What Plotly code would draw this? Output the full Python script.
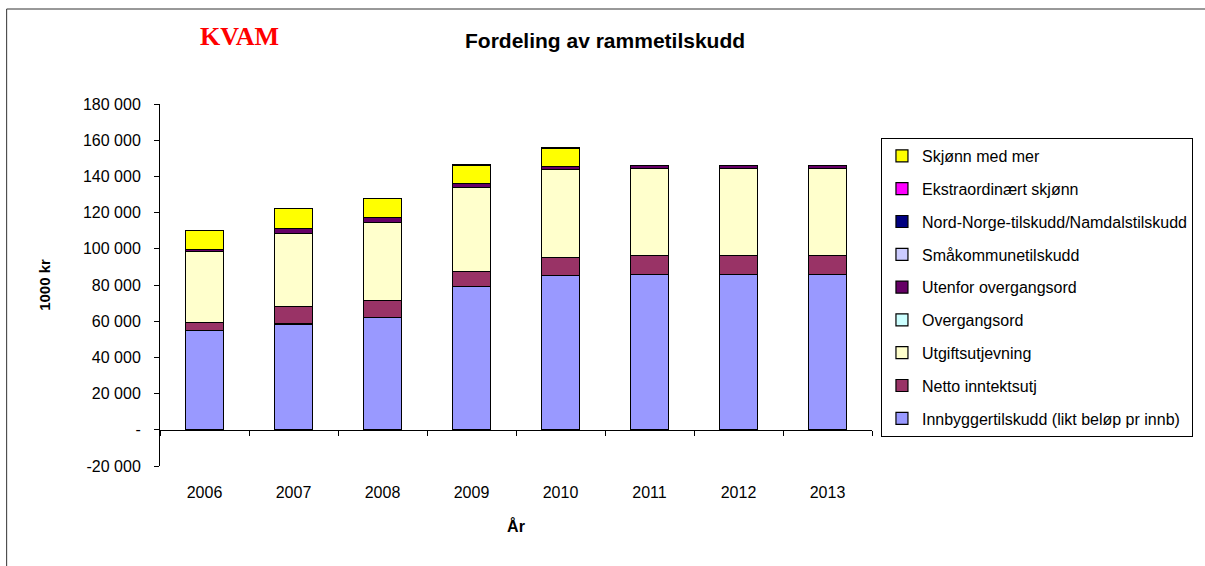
import plotly.graph_objects as go

years = ["2006", "2007", "2008", "2009", "2010", "2011", "2012", "2013"]

innbygger = [54800, 58500, 62200, 79100, 85400, 85800, 85800, 85800]
netto = [4700, 9600, 9200, 8500, 9600, 10300, 10300, 10300]
utgift = [38800, 40500, 43100, 46400, 48600, 48200, 48200, 48200]
overgang = [0, 0, 0, 0, 0, 0, 0, 0]
utenfor = [1500, 2600, 2900, 2200, 1800, 1900, 1900, 1900]
smakommune = [0, 0, 0, 0, 0, 0, 0, 0]
nordnorge = [0, 0, 0, 0, 0, 0, 0, 0]
ekstra = [0, 0, 0, 0, 0, 0, 0, 0]
skjonn = [10300, 11000, 10300, 10100, 10300, 0, 0, 0]

series = [
    ("Innbyggertilskudd (likt beløp pr innb)", innbygger, "#9999FF"),
    ("Netto inntektsutj", netto, "#993366"),
    ("Utgiftsutjevning", utgift, "#FFFFCC"),
    ("Overgangsord", overgang, "#CCFFFF"),
    ("Utenfor overgangsord", utenfor, "#660066"),
    ("Småkommunetilskudd", smakommune, "#CCCCFF"),
    ("Nord-Norge-tilskudd/Namdalstilskudd", nordnorge, "#000080"),
    ("Ekstraordinært skjønn", ekstra, "#FF00FF"),
    ("Skjønn med mer", skjonn, "#FFFF00"),
]

ytickvals = [-20000, 0, 20000, 40000, 60000, 80000, 100000, 120000, 140000, 160000, 180000]
yticktext = ["-20 000", "-", "20 000", "40 000", "60 000", "80 000", "100 000",
             "120 000", "140 000", "160 000", "180 000"]

fig = go.Figure()
n = len(series)
for i, (name, vals, color) in enumerate(series):
    fig.add_trace(go.Bar(
        x=years, y=vals, name=name, legendgroup=name, legendrank=n - i,
        marker=dict(color=color, line=dict(color="black", width=1.2)),
    ))

font = "Liberation Sans, Arial, sans-serif"

fig.update_layout(
    width=1205, height=566,
    barmode="stack", bargap=0.58,
    paper_bgcolor="white", plot_bgcolor="white",
    margin=dict(l=160, r=330, t=104, b=100),
    font=dict(family=font, size=16, color="black"),
    showlegend=True,
    legend=dict(
        x=(884 - 160) / 715, y=(466 - 138) / 362, xanchor="left", yanchor="top",
        traceorder="grouped", tracegroupgap=9,
        bordercolor="black", borderwidth=1, bgcolor="white",
        font=dict(family=font, size=16, color="black"),
    ),
    xaxis=dict(
        type="category", anchor="free", position=0.1,
        showline=True, linecolor="black", linewidth=1,
        ticks="outside", ticklen=5, tickcolor="black", tickson="boundaries",
        ticklabelstandoff=48, showgrid=False,
        tickfont=dict(family=font, size=16),
        title=dict(text="<b>År</b>", font=dict(family=font, size=16), standoff=20),
    ),
    yaxis=dict(
        range=[-20000, 180000], tickvals=ytickvals, ticktext=yticktext,
        showline=True, linecolor="black", linewidth=1,
        ticks="outside", ticklen=5, tickcolor="black", showgrid=False,
        zeroline=False, ticklabelstandoff=10,
        tickfont=dict(family=font, size=16),
        title=dict(text="<b>1000 kr</b>", font=dict(family=font, size=15), standoff=28),
    ),
    annotations=[
        dict(text="<b>Fordeling av rammetilskudd</b>", xref="paper", yref="paper",
             x=(607 - 160) / 715, y=(466 - 41) / 362, xanchor="center", yanchor="middle",
             showarrow=False, font=dict(family=font, size=21, color="black")),
        dict(text="<b>KVAM</b>", xref="paper", yref="paper",
             x=(240 - 160) / 715, y=(466 - 37) / 362, xanchor="center", yanchor="middle",
             showarrow=False,
             font=dict(family="Liberation Serif, Times New Roman, serif", size=26, color="red")),
    ],
    shapes=[
        dict(type="rect", xref="paper", yref="paper",
             x0=(6 - 160) / 715, x1=2.0, y0=-1.0, y1=(466 - 9) / 362,
             line=dict(color="#333333", width=1), fillcolor="rgba(0,0,0,0)", layer="below"),
    ],
)

fig.write_html(
    "out.html",
    config={"displayModeBar": False},
    post_script="document.body.style.margin='0px';document.body.style.overflow='hidden';",
)
